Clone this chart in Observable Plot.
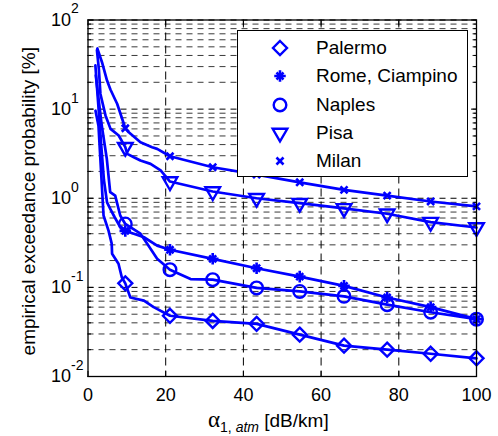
<!DOCTYPE html>
<html><head><meta charset="utf-8">
<script src="https://cdn.jsdelivr.net/npm/d3@7"></script>
<script src="https://cdn.jsdelivr.net/npm/@observablehq/plot@0.6"></script>
<style>
html,body{margin:0;padding:0;background:#fff;}
#wrap{position:relative;width:498px;height:436px;font-family:"Liberation Sans",Arial,sans-serif;}
#legend{position:absolute;left:237px;top:30px;width:231px;height:147px;border:1px solid #000;background:#fff;box-sizing:border-box;}
#legend .row{position:absolute;left:0;height:28px;width:100%;}
#legend svg{position:absolute;left:28px;top:0;}
#legend span{position:absolute;left:78px;top:2px;font-size:19px;line-height:24px;color:#000;}
#xlabel{position:absolute;top:407px;left:208px;font-size:19px;color:#000;white-space:nowrap;}
#xlabel .al{font-family:"Liberation Serif","DejaVu Serif",serif;font-size:23px;}
#xlabel sub{font-size:14px;vertical-align:-5px;}
</style></head><body><div id="wrap"></div>
<script>
// ---- data ----
const cities = ["Palermo", "Rome, Ciampino", "Naples", "Pisa", "Milan"];
const markerX = [9.6, 21.1, 32.1, 43.4, 54.5, 65.9, 77.0, 88.2, 100];

const palermoMarks = [0.111, 0.048, 0.042, 0.039, 0.0295, 0.0222, 0.020, 0.018, 0.016];
const romeMarks    = [0.43, 0.264, 0.209, 0.164, 0.132, 0.104, 0.077, 0.060, 0.044];
const naplesMarks  = [0.515, 0.158, 0.122, 0.0986, 0.090, 0.0794, 0.064, 0.0526, 0.044];
const pisaMarks    = [3.74, 1.54, 1.19, 1.0, 0.88, 0.77, 0.67, 0.54, 0.47];
const milanMarks   = [6.1, 2.96, 2.23, 1.84, 1.51, 1.24, 1.07, 0.92, 0.81];

// extra curve points between / before markers
const palermoX = [1.93, 2.7, 4.0, 5.3, 6.1, 6.2, 7.85, 8.7, 10.9, 14.4, 16.9];
const palermoY = [9.6, 6.5, 0.64, 0.43, 0.31, 0.238, 0.184, 0.13, 0.077, 0.071, 0.06];
const romeX = [1.9, 2.6, 3.3, 4.1, 4.9, 5.8, 6.8, 8.0, 11.8, 14.4, 17.8];
const romeY = [31, 12, 4.5, 1.6, 0.9, 0.75, 0.62, 0.5, 0.40, 0.365, 0.294];
const naplesX = [2.0, 3.55, 4.84, 5.71, 7.0, 8.3, 13.5, 15.2, 17.8, 26.4];
const naplesY = [24, 6.5, 2.77, 1.17, 1.07, 0.64, 0.40, 0.31, 0.21, 0.124];
const pisaX = [2.3, 2.8, 3.2, 4.5, 5.8, 7.9, 10.1, 11.8, 13.5, 16.1, 18.7];
const pisaY = [46, 28, 14.8, 8.5, 6.0, 5.06, 3.15, 2.88, 2.65, 2.43, 2.05];
const milanX = [2.4, 3.6, 4.9, 5.8, 7.5, 10.5, 13.5, 16.5, 17.8];
const milanY = [48, 33.6, 20.9, 16.5, 11.5, 5.5, 4.25, 3.74, 3.58];

const xTicks = [0, 20, 40, 60, 80, 100];
const xGrid = [20, 40, 60, 80];
const yMajor = [0.01, 0.1, 1, 10, 100];
const yExponents = ["-2", "-1", "0", "1", "2"];
const yMinor = [0.02,0.03,0.04,0.05,0.06,0.07,0.08,0.09, 0.2,0.3,0.4,0.5,0.6,0.7,0.8,0.9, 2,3,4,5,6,7,8,9, 20,30,40,50,60,70,80,90];

// ---- build tables ----
const series = [
  {name: cities[0], hx: palermoX, hy: palermoY, marks: palermoMarks},
  {name: cities[1], hx: romeX, hy: romeY, marks: romeMarks},
  {name: cities[2], hx: naplesX, hy: naplesY, marks: naplesMarks},
  {name: cities[3], hx: pisaX, hy: pisaY, marks: pisaMarks},
  {name: cities[4], hx: milanX, hy: milanY, marks: milanMarks}
];
const lineData = series.flatMap(s =>
  [...s.hx.map((x, i) => ({city: s.name, x, y: s.hy[i]})),
   ...markerX.map((x, i) => ({city: s.name, x, y: s.marks[i]}))].sort((a, b) => a.x - b.x));
const markData = series.flatMap(s => markerX.map((x, i) => ({city: s.name, x, y: s.marks[i]})));
const only = name => markData.filter(d => d.city === name);

const blue = "#0000ff";
const sw = 2.4;

const chart = Plot.plot({
  width: 498, height: 436,
  marginLeft: 87.5, marginRight: 22, marginTop: 19.5, marginBottom: 60,
  style: {fontFamily: "'Liberation Sans', Arial, sans-serif", fontSize: "18px", background: "#fff", color: "#000"},
  x: {domain: [0, 100], label: null},
  y: {type: "log", domain: [0.01, 100], label: null},
  marks: [
    Plot.ruleY(yMinor, {stroke: "#3a3a3a", strokeWidth: 1, strokeDasharray: "6,5"}),
    Plot.ruleY(yMajor, {stroke: "#000", strokeWidth: 1, strokeDasharray: "6,5"}),
    Plot.ruleX(xGrid, {stroke: "#000", strokeWidth: 1, strokeDasharray: "8,5"}),
    Plot.line(lineData, {x: "x", y: "y", z: "city", stroke: blue, strokeWidth: 2.7, strokeLinejoin: "round"}),
    Plot.dot(only(cities[0]), {x: "x", y: "y", symbol: "diamond2", r: 6.3, fill: "none", stroke: blue, strokeWidth: sw}),
    Plot.dot(only(cities[1]), {x: "x", y: "y", symbol: "plus", r: 3.8, fill: "none", stroke: blue, strokeWidth: 2.6}),
    Plot.dot(only(cities[1]), {x: "x", y: "y", symbol: "times", r: 3.3, fill: "none", stroke: blue, strokeWidth: 2.6}),
    Plot.dot(only(cities[2]), {x: "x", y: "y", symbol: "circle", r: 6.3, fill: "none", stroke: blue, strokeWidth: sw}),
    Plot.dot(only(cities[3]), {x: "x", y: "y", symbol: "triangle2", r: 7, rotate: 180, fill: "none", stroke: blue, strokeWidth: sw}),
    Plot.dot(only(cities[4]), {x: "x", y: "y", symbol: "times", r: 3.3, fill: "none", stroke: blue, strokeWidth: 2.6}),
    Plot.frame({stroke: "#000", strokeWidth: 1.3}),
    // inward ticks
    Plot.axisX(xTicks, {anchor: "bottom", tickSize: -5, tickFormat: () => "", label: null}),
    Plot.axisX(xTicks, {anchor: "top", tickSize: -5, tickFormat: () => "", label: null}),
    Plot.axisY(yMajor, {anchor: "left", tickSize: -6, tickFormat: () => "", label: null}),
    Plot.axisY(yMajor, {anchor: "right", tickSize: -6, tickFormat: () => "", label: null}),
    Plot.axisY(yMinor, {anchor: "left", tickSize: -3.5, tickFormat: () => "", label: null}),
    Plot.axisY(yMinor, {anchor: "right", tickSize: -3.5, tickFormat: () => "", label: null}),
    // tick labels
    Plot.axisX(xTicks, {anchor: "bottom", tickSize: 0, tickPadding: 12, fontSize: 18, label: null}),
    Plot.text(yMajor, {y: d => d, text: () => "10", frameAnchor: "left", textAnchor: "start", dx: -37, fontSize: 18, lineAnchor: "middle"}),
    Plot.text(yMajor, {y: d => d, text: (d, i) => yExponents[i], frameAnchor: "left", textAnchor: "start", dx: -17, dy: -11, fontSize: 14, lineAnchor: "middle"}),
    // y label
    Plot.text(["empirical exceedance probability [%]"], {frameAnchor: "left", rotate: -90, dx: -59, dy: 3, fontSize: 19, lineAnchor: "middle", textAnchor: "middle"})
  ]
});

const wrap = document.getElementById("wrap");
wrap.appendChild(chart);

// legend
const legend = document.createElement("div");
legend.id = "legend";
const legendSymbols = [
  [{type: d3.symbolDiamond2, size: 125}],
  [{type: d3.symbolPlus, size: 45, sw: 2.6}, {type: d3.symbolTimes, size: 34, sw: 2.6}],
  [{type: d3.symbolCircle, size: 125}],
  [{type: d3.symbolTriangle2, size: 154, rot: 180}],
  [{type: d3.symbolTimes, size: 34, sw: 2.6}]
];
cities.forEach((c, i) => {
  const row = document.createElement("div");
  row.className = "row";
  row.style.top = (3 + i * 28.3) + "px";
  const svg = d3.create("svg").attr("width", 28).attr("height", 28);
  legendSymbols[i].forEach(s => {
    svg.append("path").attr("d", d3.symbol(s.type, s.size)())
      .attr("transform", `translate(14,14) rotate(${s.rot || 0})`)
      .attr("fill", "none").attr("stroke", blue).attr("stroke-width", s.sw || sw);
  });
  row.appendChild(svg.node());
  const t = document.createElement("span");
  t.textContent = c;
  row.appendChild(t);
  legend.appendChild(row);
});
wrap.appendChild(legend);

// x label
const xl = document.createElement("div");
xl.id = "xlabel";
xl.innerHTML = '<span class="al">α</span><sub>1, <i>atm</i></sub> [dB/km]';
wrap.appendChild(xl);
</script>
</body></html>
